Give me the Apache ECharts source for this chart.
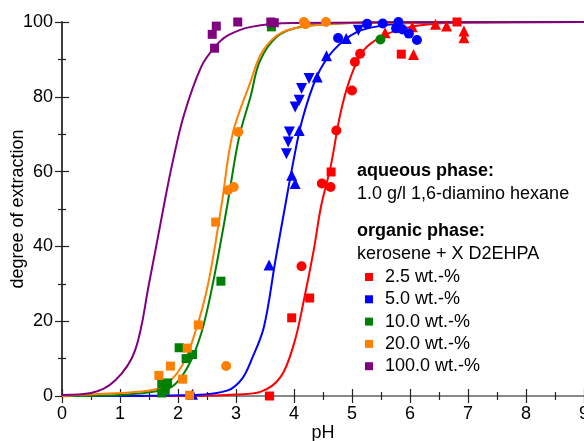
<!DOCTYPE html>
<html>
<head>
<meta charset="utf-8">
<title>degree of extraction</title>
<script src="https://cdn.jsdelivr.net/npm/echarts@6/dist/echarts.min.js"></script>
<style>
    html, body { margin: 0; padding: 0; background: #fff; }
    #chart { width: 584px; height: 441px; }
</style>
</head>
<body>
<div id="chart"></div>
<script>
// fitted curves as [pH, degree of extraction]
var fit_2_5 = [[0, 0], [2.5, 0.1], [3.0, 0.4], [3.42, 1.1], [3.77, 5.1], [4.0, 14], [4.17, 25.6], [4.34, 39], [4.47, 51], [4.63, 61.2], [4.8, 75.5], [4.97, 85], [5.2, 92.4], [5.55, 96.4], [6.0, 98.7], [6.47, 99.6], [7.0, 99.9], [9, 100]];
var fit_5_0 = [[0, 0], [2.3, 0.3], [2.86, 1.5], [3.1, 4.5], [3.27, 9.8], [3.48, 18.4], [3.68, 36.3], [3.85, 51], [3.97, 61.2], [4.14, 73.7], [4.39, 85.3], [4.68, 92.4], [5.08, 97.3], [5.55, 99.1], [6.0, 99.7], [9, 100]];
var fit_10 = [[0, 0], [1.0, 0.3], [1.5, 1], [1.89, 2.4], [2.17, 7.8], [2.4, 16.7], [2.6, 30], [2.85, 51], [3.05, 69], [3.25, 80], [3.41, 89.5], [3.7, 96], [4.1, 98.7], [4.67, 99.5], [5.5, 99.9], [9, 100]];
var fit_20 = [[0, 0], [0.57, 0.5], [1.2, 1], [1.72, 2.4], [2.06, 7.8], [2.29, 16.7], [2.52, 30], [2.75, 51], [2.94, 70], [3.25, 84], [3.45, 92], [3.8, 97.3], [4.37, 99.1], [5.0, 99.7], [9, 100]];
var fit_100 = [[0, 0.3], [0.5, 0.8], [0.92, 4.2], [1.26, 12.2], [1.5, 30], [1.77, 52], [1.9, 62], [2.1, 75], [2.4, 88], [2.64, 93.4], [2.86, 96.4], [3.26, 98.7], [4.0, 99.7], [9, 100]];

// measured points
var red_sq = [[3.58, 0], [3.96, 20.9], [4.27, 26.2], [4.64, 59.9], [5.85, 91.4], [6.81, 100]];
var red_ci = [[4.13, 34.7], [4.48, 56.8], [4.63, 55.9], [4.73, 71], [5.0, 81.7], [5.05, 89.3], [5.14, 91.5]];
var red_tri = [[5.57, 97.1], [6.04, 98.7], [6.06, 91.3], [6.44, 99.4], [6.63, 98.9], [6.93, 97.6], [6.93, 95.8]];
var blue_ci = [[4.76, 95.7], [5.26, 99.5], [5.53, 99.6], [5.8, 100], [5.76, 98.3], [5.87, 98], [5.98, 96.9], [6.12, 95.2]];
var blue_tri = [[2.25, 0.5], [3.57, 35], [3.96, 59], [4.02, 56.8], [4.09, 71], [4.4, 85.3], [4.56, 91], [4.9, 95.6]];
var blue_tri_dn = [[3.87, 64.8], [3.9, 67.9], [3.92, 70.6], [4.02, 77.3], [4.09, 79.1], [4.13, 82.2], [4.26, 84.9], [5.11, 97.8]];
var green_sq = [[1.72, 0.8], [1.78, 1.5], [1.72, 3.3], [1.82, 3.5], [2.02, 12.9], [2.14, 10], [2.25, 11.1], [2.74, 30.7], [3.61, 98.7]];
var green_ci = [[5.49, 95.3]];
var orange_sq = [[1.67, 5.5], [1.87, 8.0], [2.08, 4.5], [2.16, 12.8], [2.2, 0.2], [2.35, 19], [2.65, 46.5]];
var orange_ci = [[2.83, 8.0], [2.86, 55], [2.96, 55.9], [3.04, 70.6], [4.17, 100], [4.2, 99.4], [4.55, 100]];
var purple_sq = [[2.59, 96.7], [2.63, 93], [2.66, 98.9], [3.03, 100], [3.6, 100], [3.66, 99.8]];

var names = ['2.5 wt.-%', '5.0 wt.-%', '10.0 wt.-%', '20.0 wt.-%', '100.0 wt.-%'];
var colors = ['#ff0000', '#0000ff', '#008000', '#ff8000', '#800080'];
var xTicks = [0, 1, 2, 3, 4, 5, 6, 7, 8, 9];
var yTicks = [0, 20, 40, 60, 80, 100];

var FONT = 'Liberation Sans, Arial, sans-serif';

function fitLine(i, data) {
    return {
        name: 'fit ' + names[i], type: 'line', data: data, smooth: 0.35,
        showSymbol: false, silent: true, z: 2,
        lineStyle: { color: colors[i], width: 2 }
    };
}

// one series per colour, the marker shape is set per point
function points(i, groups) {
    var data = [];
    groups.forEach(function (g) {
        g.pts.forEach(function (p) {
            data.push({ value: p, symbol: g.symbol, symbolSize: g.size, symbolRotate: g.rot || 0 });
        });
    });
    return {
        name: names[i], type: 'scatter', data: data, symbol: 'rect', z: 3,
        itemStyle: { color: colors[i], opacity: 1 }
    };
}

var axisLine = { show: true, lineStyle: { color: '#333', width: 1.5 } };
var tick = { show: true, inside: true, length: 7, lineStyle: { color: '#222', width: 1.2 } };
var minor = { show: true, splitNumber: 2, length: 4, lineStyle: { color: '#222', width: 1.2 } };

var chart = echarts.init(document.getElementById('chart'));
chart.setOption({
    animation: false,
    textStyle: { fontFamily: FONT },
    grid: { left: 62, right: 0, top: 22, bottom: 45, containLabel: false, outerBoundsMode: 'none' },
    xAxis: [{
        type: 'value', min: xTicks[0], max: xTicks[xTicks.length - 1], interval: 1,
        name: 'pH', nameLocation: 'middle', nameGap: 28, nameMoveOverlap: false,
        nameTextStyle: { fontSize: 18, color: '#000', fontFamily: FONT },
        axisLine: axisLine, axisTick: tick, minorTick: minor, splitLine: { show: false },
        axisLabel: { fontSize: 18, color: '#000', margin: 9, fontFamily: FONT, showMaxLabel: true }
    }, {
        type: 'value', position: 'top', min: 0, max: 9, interval: 1,
        axisLine: { show: true, lineStyle: { color: '#888', width: 2 } },
        axisTick: tick, minorTick: minor, splitLine: { show: false }, axisLabel: { show: false }
    }],
    yAxis: [{
        type: 'value', min: yTicks[0], max: yTicks[yTicks.length - 1], interval: 20,
        name: 'degree of extraction', nameLocation: 'middle', nameGap: 35, nameMoveOverlap: false,
        nameTextStyle: { fontSize: 18, color: '#000', fontFamily: FONT },
        axisLine: axisLine, axisTick: tick, minorTick: minor, splitLine: { show: false },
        axisLabel: { fontSize: 18, color: '#000', margin: 9, fontFamily: FONT }
    }, {
        type: 'value', position: 'right', min: 0, max: 100, interval: 20,
        axisLine: axisLine, axisTick: tick, minorTick: minor, splitLine: { show: false }, axisLabel: { show: false }
    }],
    legend: {
        data: names.map(function (n) { return { name: n, icon: 'rect' }; }),
        orient: 'vertical', left: 365, top: 268, padding: 0, itemWidth: 8, itemHeight: 8, itemGap: 4.3,
        textStyle: { fontSize: 18, lineHeight: 18, color: '#000', fontFamily: FONT, padding: [0, 0, 0, 7] }
    },
    graphic: [
        { type: 'text', left: 357, top: 162, style: { text: 'aqueous phase:', font: 'bold 18px ' + FONT, fill: '#000' } },
        { type: 'text', left: 357, top: 185, style: { text: '1.0 g/l 1,6-diamino hexane', font: '18px ' + FONT, fill: '#000' } },
        { type: 'text', left: 357, top: 222, style: { text: 'organic phase:', font: 'bold 18px ' + FONT, fill: '#000' } },
        { type: 'text', left: 357, top: 245, style: { text: 'kerosene + X D2EHPA', font: '18px ' + FONT, fill: '#000' } }
    ],
    series: [
        fitLine(0, fit_2_5), fitLine(1, fit_5_0), fitLine(2, fit_10), fitLine(3, fit_20), fitLine(4, fit_100),
        points(0, [{ pts: red_sq, symbol: 'rect', size: 9 }, { pts: red_ci, symbol: 'circle', size: 10 }, { pts: red_tri, symbol: 'triangle', size: 11 }]),
        points(1, [{ pts: blue_ci, symbol: 'circle', size: 10 }, { pts: blue_tri, symbol: 'triangle', size: 11 }, { pts: blue_tri_dn, symbol: 'triangle', size: 11, rot: 180 }]),
        points(2, [{ pts: green_sq, symbol: 'rect', size: 9 }, { pts: green_ci, symbol: 'circle', size: 10 }]),
        points(3, [{ pts: orange_sq, symbol: 'rect', size: 9 }, { pts: orange_ci, symbol: 'circle', size: 10 }]),
        points(4, [{ pts: purple_sq, symbol: 'rect', size: 9 }])
    ]
});
</script>
</body>
</html>
